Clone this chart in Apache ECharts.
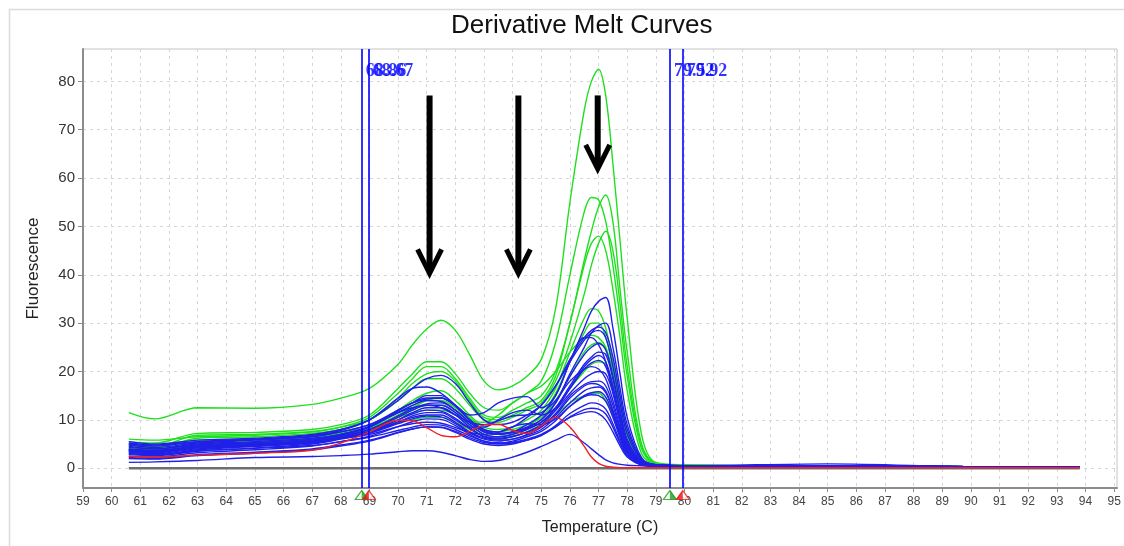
<!DOCTYPE html>
<html>
<head>
<meta charset="utf-8">
<script src="https://cdn.jsdelivr.net/npm/echarts@6/dist/echarts.min.js"></script>
<style>html,body{margin:0;padding:0;background:#fff}#c{width:1124px;height:546px}</style>
</head>
<body>
<div id="c"></div>
<script>
// ---- data ----
const temps = [60.6, 61.5, 63, 65, 67, 68, 69, 70, 70.5, 71, 71.5, 72, 72.5, 73, 73.5, 74, 74.5, 75, 75.5, 76, 76.5, 76.75, 77, 77.25, 77.5, 77.75, 78, 78.5, 79, 80, 85, 90, 93.8];

const green1 = [11.5, 10.2, 12.5, 12.4, 13.2, 14.5, 16.5, 21.5, 25.5, 28.8, 30.6, 28.5, 23.5, 18, 16.2, 17, 19, 22.5, 33, 55, 74, 80, 82.5, 77, 63, 47, 31, 7, 1.2, 0.7, 0.4, 0.3, 0.2];
const green2 = [5.5, 5.2, 7.2, 7.4, 8, 9, 11, 16.5, 19.5, 22, 22, 19.5, 15.5, 12.5, 12, 13.5, 15.5, 18, 26, 40, 53, 56, 55.5, 51, 42, 31, 19, 4, 0.9, 0.6, 0.4, 0.3, 0.2];
const green3 = [5, 4.5, 6.8, 7, 7.6, 8.5, 10.5, 15.5, 18.5, 21, 21, 18.5, 14.5, 11, 10.5, 12, 13.5, 15, 20, 30, 43, 49, 54, 56.5, 51, 37, 24, 5, 1, 0.6, 0.4, 0.3, 0.2];
const green4 = [4.5, 4.2, 6.2, 6.5, 7.2, 8, 10, 14.5, 17.5, 19.5, 20, 18, 14, 10.5, 10, 11, 12.5, 14, 19, 30, 42, 46.5, 48, 45, 37, 27, 16, 3, 0.8, 0.6, 0.4, 0.3, 0.2];
const green5 = [6, 5.8, 6.5, 6.8, 7.5, 8.5, 10, 14, 16.5, 18.5, 18.5, 16.5, 13, 10, 9.5, 10.5, 12, 13.5, 18, 26, 36, 42, 46.5, 49, 45, 34, 21, 4.5, 1, 0.6, 0.4, 0.3, 0.2];
const green6 = [4, 3.8, 5, 5.5, 6.2, 7, 8.5, 12, 14, 15.5, 16, 14, 11, 8.5, 8, 8.5, 10, 12, 16.5, 24, 31, 33, 32.5, 29, 22, 14.5, 8, 1.5, 0.6, 0.5, 0.4, 0.3, 0.2];
const green7 = [3.5, 3.2, 4.8, 5.2, 6, 7, 8.2, 11, 12.5, 14, 14.5, 13, 10.5, 8, 7.5, 8, 9, 10.5, 14, 19, 24, 25.5, 26, 24.5, 19.5, 13, 7, 1.3, 0.6, 0.5, 0.4, 0.3, 0.2];
const green8 = [4.2, 3.8, 5.5, 5.8, 6.5, 7.5, 8.5, 10.5, 11.5, 12, 12, 11, 9, 7, 6.5, 7, 8, 9.5, 12.5, 16.5, 20, 21.5, 22, 21.5, 17.5, 11.5, 6, 1.2, 0.6, 0.5, 0.4, 0.3, 0.2];
const green9 = [3.8, 3.5, 5.2, 5.5, 6.2, 7.2, 8.5, 11.5, 13, 14, 14, 12.5, 10, 9.5, 11, 13.5, 15.5, 17, 20, 24, 27, 27.5, 27, 25, 20, 13.5, 7, 1.3, 0.6, 0.5, 0.4, 0.3, 0.2];
const green10 = [4.8, 4.5, 5.8, 6, 6.6, 7.2, 8, 9.5, 10, 10.5, 10.5, 9.5, 8, 6.5, 6, 6.5, 7.5, 9, 11, 13.5, 15, 15.5, 15.5, 14, 11, 7, 3.5, 0.8, 0.5, 0.5, 0.4, 0.3, 0.2];
const green11 = [3.2, 3.0, 4.3, 4.8, 5.6, 6.5, 7.8, 10.5, 12, 13, 13, 11.5, 9, 7, 6.5, 7, 8.5, 11, 15.5, 22, 28, 30, 30, 27, 21, 14, 7.5, 1.4, 0.6, 0.5, 0.4, 0.3, 0.2];

const blue1 = [4.5, 4, 5, 5.5, 6.2, 7, 8.5, 12, 13.5, 15, 15, 13, 10, 7.5, 7, 7.5, 9, 11, 15, 22, 29, 32.5, 34.5, 35.3, 29, 19.5, 10.5, 2.2, 0.7, 0.5, 0.4, 0.3, 0.2];
const blue2 = [5.5, 5, 5.8, 6.2, 7, 8, 10, 14, 16.5, 18.5, 19.2, 17.5, 13.5, 10, 9, 9.5, 11, 13, 17, 22.5, 27, 28.5, 29.2, 28, 23, 15, 8, 1.8, 0.7, 0.5, 0.4, 0.3, 0.2];
const blue3 = [5.2, 4.8, 5.5, 6, 6.8, 7.8, 10, 14.5, 16.5, 16.8, 15.5, 13, 10, 8, 7.5, 8.5, 10.5, 13, 17, 22, 26.5, 28, 28.5, 27, 21, 13.5, 7, 1.6, 0.7, 0.5, 0.4, 0.3, 0.2];
const blue4 = [4.8, 4.3, 5.2, 5.8, 6.5, 7.5, 9, 12, 13.5, 14.5, 14.5, 13, 11, 11.5, 13.5, 14.5, 14.8, 12.5, 15, 22, 27, 27, 25.5, 22, 16, 9.5, 5, 1.2, 0.6, 0.5, 0.4, 0.3, 0.2];
const blue5 = [3.8, 3.5, 4.5, 5, 5.8, 6.8, 8.5, 11.5, 13, 14, 13.8, 12, 9.5, 7.5, 7, 7.5, 8.5, 10, 13.5, 19, 23.5, 25, 25.8, 24.5, 19, 12, 6, 1.4, 0.6, 0.5, 0.4, 0.3, 0.2];
const blue6 = [3.5, 3.2, 4.2, 4.8, 5.5, 6.5, 8, 10.5, 12, 13, 13, 11.5, 9, 7, 6.5, 7, 8, 9.5, 12.5, 17, 21.5, 23, 24, 23.5, 18.5, 11.5, 5.5, 1.3, 0.6, 0.5, 0.4, 0.3, 0.2];
const blue7 = [3, 2.8, 3.8, 4.5, 5.2, 6.2, 7.5, 10, 11.5, 12.5, 12.5, 11, 8.5, 6.5, 6, 6.5, 7.5, 9, 12, 16.5, 21, 22.5, 23.3, 22, 17, 10.5, 5, 1.2, 0.6, 0.5, 0.4, 0.3, 0.2];
const blue8 = [2.8, 2.6, 3.5, 4.2, 5, 6, 7.2, 9.5, 10.8, 11.5, 11.5, 10, 8.5, 8.5, 10, 11.5, 12, 11, 12.5, 16.5, 20.5, 21.8, 22.3, 21, 16, 10, 4.8, 1.1, 0.6, 0.5, 0.4, 0.3, 0.2];
const blue9 = [4, 3.7, 4.5, 5, 5.6, 6.4, 7.5, 9.5, 10.5, 11, 11, 9.5, 7.5, 6.2, 5.8, 6, 7, 8.5, 11, 14.5, 17, 17.5, 17.3, 16, 12, 7.5, 3.8, 1, 0.6, 0.5, 0.9, 0.3, 0.2];
const blue10 = [3.3, 3, 4, 4.6, 5.3, 6.2, 7.3, 9.2, 10.2, 10.8, 10.6, 9.2, 7.3, 6, 5.6, 6, 6.8, 8, 10.5, 13.5, 16, 16.6, 16.8, 15.6, 11.8, 7.2, 3.6, 0.9, 0.6, 0.5, 0.4, 0.3, 0.2];
const blue11 = [2.5, 2.3, 3.2, 3.8, 4.6, 5.5, 6.6, 8.6, 9.6, 10.2, 10.1, 8.8, 7, 5.6, 5.2, 5.6, 6.5, 7.6, 9.8, 12.8, 15, 15.6, 15.8, 14.7, 11.2, 6.8, 3.3, 0.9, 0.6, 0.5, 0.4, 0.3, 0.2];
const blue12 = [3.7, 3.4, 4.4, 4.9, 5.5, 6.2, 7, 8.6, 9.2, 9.5, 9.3, 8.4, 7.4, 7, 7.4, 8.6, 9.2, 9, 10.2, 12.8, 14.8, 15.2, 15, 13.8, 10.5, 6.3, 3, 0.8, 0.5, 0.5, 0.4, 0.3, 0.2];
const blue13 = [2.2, 2, 2.8, 3.3, 4, 4.8, 5.8, 7.4, 8.1, 8.5, 8.4, 7.4, 6, 5, 4.7, 5, 5.8, 6.8, 8.5, 10.6, 12.1, 12.4, 12.2, 11.2, 8.5, 5.2, 2.6, 0.7, 0.5, 0.5, 0.4, 0.3, 0.2];
const blue14 = [3, 2.8, 3.6, 4.1, 4.7, 5.5, 6.4, 7.8, 8.5, 9, 8.9, 8, 6.7, 5.6, 5.2, 5.4, 6, 7, 8.6, 10.5, 11.5, 11.7, 11.3, 10, 7.5, 4.6, 2.3, 0.7, 0.5, 0.5, 0.4, 0.3, 0.2];
const blue15 = [1.2, 1.3, 1.6, 2.2, 2.4, 2.6, 2.9, 3.4, 3.6, 3.6, 3.3, 2.6, 1.8, 1.4, 1.6, 2.3, 3.3, 4.5, 5.8, 7, 5.2, 4, 2.8, 1.7, 1.1, 0.8, 0.6, 0.5, 0.4, 0.4, 0.4, 0.3, 0.2];
const blue16 = [4.3, 4, 4.8, 5.3, 6, 7, 8.7, 11.8, 13.5, 14.3, 14.5, 12.8, 10, 7.8, 7.2, 7.5, 8.2, 9.5, 12, 15.5, 18.5, 19.5, 20, 19.5, 15.5, 9.5, 4.5, 1.1, 0.6, 0.5, 0.4, 0.3, 0.2];
const blue17 = [3.6, 3.3, 4.2, 4.7, 5.4, 6.3, 7.6, 10, 11.2, 12, 11.8, 10.3, 8.2, 6.6, 6.2, 6.6, 7.4, 8.7, 11.3, 15, 17.3, 17.9, 18, 17, 13, 8, 3.9, 1, 0.6, 0.5, 0.4, 0.3, 0.2];
const blue18 = [3.9, 3.6, 4.6, 5.1, 5.8, 6.7, 8, 10.8, 12.3, 13.3, 13.5, 12, 9.5, 7.5, 7, 7.3, 8.3, 10, 13.5, 19.5, 25, 28, 29.5, 30, 25, 16.5, 9, 1.9, 0.7, 0.5, 0.4, 0.3, 0.2];
const blue19 = [5, 4.6, 5.4, 5.9, 6.6, 7.5, 9, 11.5, 12.5, 13, 12.5, 11, 9.5, 9, 9.8, 10.8, 11, 11.5, 14, 18, 20.5, 21, 20.5, 18.5, 14, 8.5, 4.2, 1, 0.6, 0.5, 0.4, 0.3, 0.2];
const blue20 = [2, 1.9, 2.6, 3.1, 3.8, 4.6, 5.6, 7.3, 8.1, 8.6, 8.5, 7.6, 6.3, 5.3, 5, 5.2, 5.8, 6.8, 8.8, 11.3, 13, 13.5, 13.3, 12.2, 9.2, 5.6, 2.8, 0.7, 0.5, 0.5, 0.4, 0.3, 0.2];

const red1 = [2.4, 2.3, 2.7, 3.1, 3.7, 5.2, 7.5, 9.9, 9.8, 8.4, 6.8, 6.5, 7.6, 8.9, 9.1, 7.8, 7.2, 8.8, 10.5, 8.5, 4.5, 2.3, 1.0, 0.4, 0.2, 0.1, 0.1, 0.1, 0.1, 0.1, 0.1, 0.1, 0.1];

const baselineRange = [60.6, 93.8];
const markerTemps = [68.73, 68.98, 79.49, 79.94];
const markerLabels = ['68.86', '68.67', '79.52', '79.92'];
const markerLabelLevel = 82;
const arrowX = [71.1, 74.2, 76.97];
const arrowTop = [77.1, 77.1, 77.1];
const arrowTip = [40.3, 40.3, 61.9];
const xTicks = []; for (let t = 59; t <= 95; t++) xTicks.push(t);
const yTicks = [0, 10, 20, 30, 40, 50, 60, 70, 80];

const greens = [green1, green2, green3, green4, green5, green6, green7, green8, green9, green10, green11];
const blues = [blue1, blue2, blue3, blue4, blue5, blue6, blue7, blue8, blue9, blue10, blue11, blue12, blue13, blue14, blue15, blue16, blue17, blue18, blue19, blue20];
const reds = [red1];

// ---- chart ----
const GREEN = '#1ee01e', BLUE = '#2020e8', RED = '#f02020', MARK = '#0000ff';
function curve(vals, color) {
  return { type: 'line', data: temps.map((t, i) => [t, vals[i]]), smooth: 0.35, symbol: 'none',
    lineStyle: { color: color, width: 1.4 }, itemStyle: { color: color }, silent: true, z: 3 };
}
const series = [];
series.push({ type: 'line', data: baselineRange.map(t => [t, 0]), symbol: 'none',
  lineStyle: { color: '#6e6e6e', width: 2.5 }, silent: true, z: 2 });
greens.forEach(v => series.push(curve(v, GREEN)));
blues.forEach(v => series.push(curve(v, BLUE)));
reds.forEach(v => series.push(curve(v, RED)));

const yMin = -4.1;
// marker lines + outline triangles under the axis
series.push({ type: 'scatter', z: 6, silent: true, clip: false,
  symbol: 'triangle', symbolSize: [13, 9], symbolOffset: [0, 7],
  data: markerTemps.map((t, i) => ({ value: [t, yMin],
    itemStyle: { color: '#fff', borderColor: i % 2 === 0 ? '#1a9a1a' : '#e02020', borderWidth: 1.2 } })),
  markLine: { silent: true, symbol: 'none', animation: false, label: { show: false },
    lineStyle: { color: MARK, width: 1.6, type: 'solid' },
    data: markerTemps.map(t => ({ xAxis: t })) }
});
// half fills of the triangles
series.push({ type: 'scatter', z: 7, silent: true, clip: false,
  data: markerTemps.map((t, i) => ({ value: [t, yMin],
    symbol: i % 2 === 0 ? 'path://M0,0L0,10L6.5,10Z' : 'path://M6.5,0L6.5,10L0,10Z',
    symbolSize: [6.5, 9], symbolOffset: [i % 2 === 0 ? 3.25 : -3.25, 7],
    itemStyle: { color: i % 2 === 0 ? '#1aa01a' : '#e81010' } })) });
// marker labels
series.push({ type: 'scatter', z: 8, silent: true, symbolSize: 0,
  data: markerTemps.map((t, i) => [t, markerLabelLevel, markerLabels[i]]),
  label: { show: true, position: 'right', distance: 4, formatter: p => p.value[2],
    color: MARK, fontSize: 18, fontFamily: 'Liberation Serif', fontWeight: 'bold' } });
// arrows
series.push({ type: 'custom', z: 9, silent: true,
  data: arrowX.map((x, i) => [x, arrowTop[i], arrowTip[i]]),
  encode: { x: 0, y: [1, 2] },
  renderItem: function (params, api) {
    const top = api.coord([api.value(0), api.value(1)]);
    const tip = api.coord([api.value(0), api.value(2)]);
    return { type: 'group', children: [
      { type: 'line', shape: { x1: top[0], y1: top[1], x2: tip[0], y2: tip[1] - 5 }, style: { stroke: '#000', lineWidth: 6 } },
      { type: 'polyline', shape: { points: [[tip[0] - 12, tip[1] - 24], [tip[0], tip[1]], [tip[0] + 12, tip[1] - 24]] },
        style: { stroke: '#000', lineWidth: 5, fill: null, lineJoin: 'miter' } }
    ] };
  } });

const chart = echarts.init(document.getElementById('c'), null, { renderer: 'canvas' });
chart.setOption({
  animation: false,
  backgroundColor: '#fff',
  textStyle: { fontFamily: 'Liberation Sans' },
  title: { text: 'Derivative Melt Curves', left: 446, top: 8,
    textStyle: { fontSize: 26, fontWeight: 'normal', color: '#111', fontFamily: 'Liberation Sans' } },
  graphic: [{ type: 'rect', left: 7, top: 7, shape: { width: 1130, height: 560 },
    style: { stroke: '#dadae2', fill: null, lineWidth: 1.5 }, silent: true, z: -1 }],
  grid: { left: 83, right: 7, top: 49, bottom: 58, show: true, borderColor: '#c4c4c4', borderWidth: 1, backgroundColor: '#fff' },
  xAxis: { type: 'value', min: 59, max: 95.1,
    name: 'Temperature (C)', nameLocation: 'middle', nameGap: 32,
    nameTextStyle: { fontSize: 16, color: '#222' },
    axisLine: { show: true, onZero: false, lineStyle: { color: '#8c8c8c', width: 2 } },
    axisTick: { show: true, customValues: xTicks, length: 4, lineStyle: { color: '#8c8c8c' } },
    axisLabel: { customValues: xTicks, fontSize: 12, color: '#444', margin: 8 },
    splitLine: { show: true, lineStyle: { type: [3, 4], color: '#d6d6d6' } } },
  yAxis: { type: 'value', min: yMin, max: 86.7,
    name: 'Fluorescence', nameLocation: 'middle', nameGap: 41,
    nameTextStyle: { fontSize: 17, color: '#222' },
    axisLine: { show: true, lineStyle: { color: '#8c8c8c', width: 2 } },
    axisTick: { show: true, customValues: yTicks, length: 5, lineStyle: { color: '#8c8c8c' } },
    axisLabel: { customValues: yTicks, fontSize: 15, color: '#333', margin: 8 },
    splitLine: { show: true, lineStyle: { type: [3, 4], color: '#d6d6d6' } } },
  series: series
});
</script>
</body>
</html>
